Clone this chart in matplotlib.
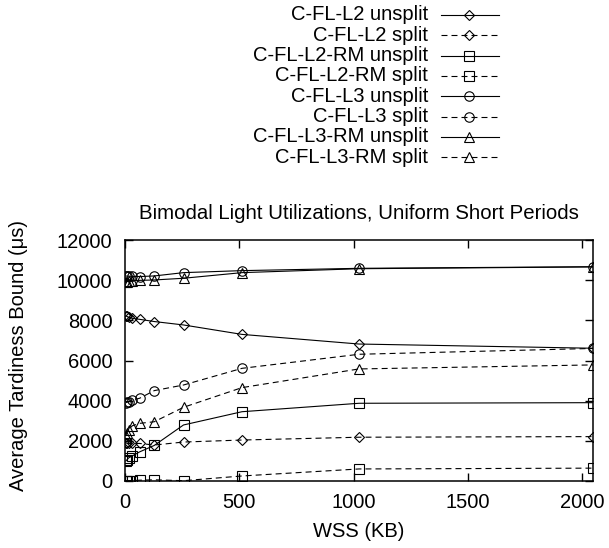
import matplotlib
matplotlib.use("Agg")
import matplotlib.pyplot as plt
from matplotlib.lines import Line2D

# WSS sizes (KB)
wss = [4, 8, 16, 32, 64, 128, 256, 512, 1024, 2048]

# average tardiness bound (us)
l2_unsplit = [8220, 8200, 8150, 8100, 8050, 7940, 7770, 7300, 6820, 6610]
l2_split = [1900, 1880, 1870, 1870, 1870, 1790, 1940, 2040, 2180, 2210]
l2rm_unsplit = [1000, 1050, 1150, 1250, 1450, 1770, 2790, 3450, 3870, 3900]
l2rm_split = [20, 20, 20, 20, 40, 60, 15, 250, 600, 640]
l3_unsplit = [10210, 10200, 10200, 10190, 10180, 10210, 10375, 10475, 10590, 10670]
l3_split = [3900, 3920, 3950, 4030, 4120, 4500, 4780, 5610, 6310, 6600]
l3rm_unsplit = [9900, 9930, 9950, 9970, 9990, 10010, 10095, 10375, 10570, 10660]
l3rm_split = [2250, 2400, 2550, 2750, 2870, 2950, 3670, 4650, 5580, 5780]

labels = ["C-FL-L2 unsplit", "C-FL-L2 split",
          "C-FL-L2-RM unsplit", "C-FL-L2-RM split",
          "C-FL-L3 unsplit", "C-FL-L3 split",
          "C-FL-L3-RM unsplit", "C-FL-L3-RM split"]
series = [l2_unsplit, l2_split, l2rm_unsplit, l2rm_split,
          l3_unsplit, l3_split, l3rm_unsplit, l3rm_split]
markers = ["D", "D", "s", "s", "o", "o", "^", "^"]
msizes = [5.3, 5.3, 7, 7, 6.8, 6.8, 7.2, 7.2]
dashed = (0, (4.3, 2.9))
styles = ["-", dashed] * 4

plt.rcParams["font.family"] = ["Liberation Sans", "DejaVu Sans"]
plt.rcParams["font.size"] = 14.5
plt.rcParams["lines.scale_dashes"] = False

W, H = 609, 548
fig = plt.figure(figsize=(W / 100, H / 100), dpi=100)
ax = fig.add_axes([125 / W, 1 - 481 / H, 468 / W, 241 / H])

for y, lab, m, ms, ls in zip(series, labels, markers, msizes, styles):
    ax.plot(wss, y, linestyle=ls, color="black", linewidth=0.8,
            marker=m, markersize=ms, markerfacecolor="none",
            markeredgecolor="black", markeredgewidth=0.8, label=lab)

ax.set_xlim(0, 2048)
ax.set_ylim(0, 12000)
ax.set_xticks([0, 500, 1000, 1500, 2000])
ax.set_yticks(range(0, 12001, 2000))
ax.tick_params(direction="in", length=6, width=1, top=True, right=True)
ax.tick_params(axis="x", pad=9)
ax.tick_params(axis="y", pad=9)
for s in ax.spines.values():
    s.set_linewidth(1.1)

ax.set_xlabel("WSS (KB)", labelpad=7)
ax.set_ylabel("Average Tardiness Bound (\u03bcs)")
ax.yaxis.set_label_coords((28 - 125) / 468, 0.52)
ax.set_title("Bimodal Light Utilizations, Uniform Short Periods",
             fontsize=14.7, pad=15)

# gnuplot-style key: right aligned text followed by line sample
for i, (lab, m, ms, ls) in enumerate(zip(labels, markers, msizes, styles)):
    yp = 1 - (15 + 20.3 * i) / H
    fig.text(428 / W, yp, lab, ha="right", va="center")
    fig.add_artist(Line2D([441 / W, 499 / W], [yp, yp], transform=fig.transFigure,
                          linestyle=ls, color="black", linewidth=0.8))
    fig.add_artist(Line2D([469 / W], [yp], transform=fig.transFigure,
                          marker=m, markersize=ms, markerfacecolor="none",
                          markeredgecolor="black", markeredgewidth=0.8))

fig.savefig("out.png", dpi=100)
